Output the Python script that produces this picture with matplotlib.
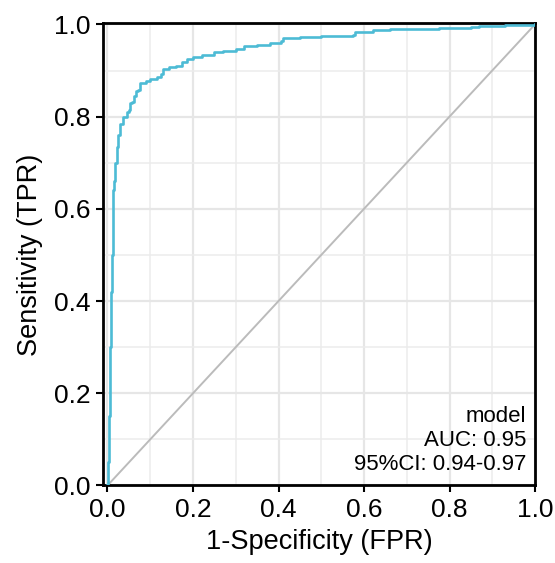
import numpy as np
import matplotlib
matplotlib.use("Agg")
import matplotlib.pyplot as plt
from matplotlib.ticker import MultipleLocator

plt.rcParams['font.family'] = ['Liberation Sans', 'DejaVu Sans']

# ROC curve (false positive rate, true positive rate)
fpr = [0.0, 0.002, 0.004, 0.006, 0.008, 0.010, 0.012, 0.013, 0.016, 0.018,
       0.022, 0.025, 0.030, 0.036, 0.045, 0.050, 0.052, 0.058, 0.062, 0.067,
       0.072, 0.075, 0.090, 0.100, 0.115, 0.125, 0.130, 0.145, 0.160, 0.175,
       0.185, 0.200, 0.220, 0.248, 0.270, 0.300, 0.320, 0.350, 0.380, 0.405,
       0.410, 0.450, 0.500, 0.574, 0.578, 0.620, 0.660, 0.720, 0.775, 0.850,
       0.868, 0.930, 1.0]
tpr = [0.0, 0.05, 0.15, 0.30, 0.42, 0.50, 0.58, 0.64, 0.66, 0.70,
       0.735, 0.76, 0.785, 0.80, 0.81, 0.815, 0.83, 0.832, 0.845, 0.855,
       0.857, 0.873, 0.878, 0.882, 0.886, 0.892, 0.904, 0.907, 0.910, 0.918,
       0.924, 0.929, 0.933, 0.940, 0.943, 0.947, 0.953, 0.956, 0.960, 0.964,
       0.970, 0.972, 0.975, 0.977, 0.984, 0.987, 0.989, 0.990, 0.992, 0.994,
       0.997, 0.998, 1.0]
ref_line = [0.0, 1.0]
legend_lines = ["model", "AUC: 0.95", "95%CI: 0.94-0.97"]
ticks = [0.0, 0.2, 0.4, 0.6, 0.8, 1.0]

fig = plt.figure(figsize=(5.55, 5.63), dpi=100)
ax = fig.add_axes([0.1856, 0.1377, 0.7784, 0.8206])

# grid
ax.xaxis.set_minor_locator(MultipleLocator(0.1))
ax.yaxis.set_minor_locator(MultipleLocator(0.1))
ax.grid(True, which='major', color='#e6e6e6', lw=1.6, zorder=0)
ax.grid(True, which='minor', color='#ececec', lw=1.1, zorder=0)
ax.tick_params(which='minor', length=0)

ax.plot(ref_line, ref_line, color='#bbbbbb', lw=1.4, zorder=2)
ax.plot(fpr, tpr, color='#4DBBD5', lw=1.9, drawstyle='steps-post', zorder=3)

ax.set_xlim(-0.0105, 1.0)
ax.set_ylim(0.0, 1.002)
ax.set_xticks(ticks)
ax.set_yticks(ticks)
ax.set_xticklabels([f"{t:.1f}" for t in ticks])
ax.set_yticklabels([f"{t:.1f}" for t in ticks])
ax.tick_params(which='major', length=5, width=1.5, labelsize=19, pad=4,
               colors='black')
for s in ax.spines.values():
    s.set_linewidth(2.0)
    s.set_color('black')

ax.set_xlabel("1-Specificity (FPR)", fontsize=19.5, labelpad=5)
ax.set_ylabel("Sensitivity (TPR)", fontsize=19.5, labelpad=8)

ax.text(0.98, 0.022, "\n".join(legend_lines), transform=ax.transAxes,
        ha='right', va='bottom', fontsize=16, linespacing=1.2, zorder=4)

fig.savefig("out.png", dpi=100)
